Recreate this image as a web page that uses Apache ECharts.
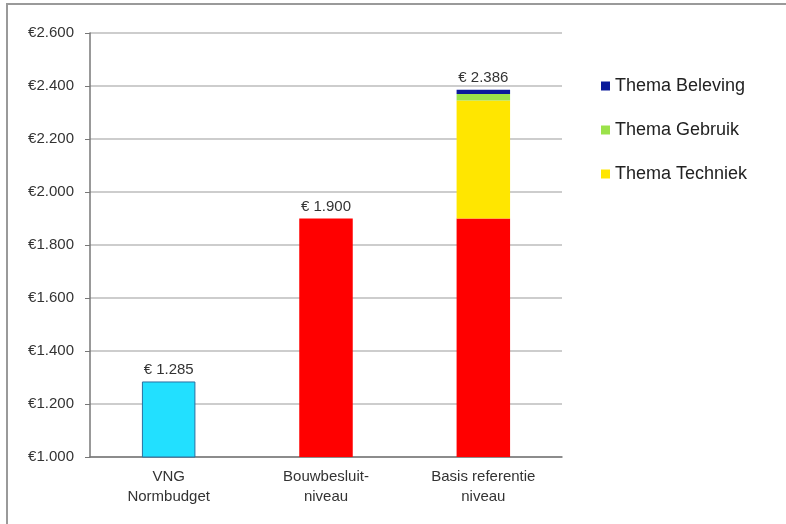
<!DOCTYPE html>
<html>
<head>
<meta charset="utf-8">
<script src="https://cdn.jsdelivr.net/npm/echarts@6/dist/echarts.min.js"></script>
<style>
  html, body { margin: 0; padding: 0; background: #fff; }
  #chart { width: 786px; height: 524px; }
</style>
</head>
<body>
<div id="chart"></div>
<script>
// categorieën en waarden
var categories = ["VNG\nNormbudget", "Bouwbesluit-\nniveau", "Basis referentie\nniveau"];
var baseValues = [1285, 1900, 1900];
var baseColors = ["#22e0ff", "#ff0000", "#ff0000"];
var techniek = [null, null, 445];
var gebruik = [null, null, 25];
var beleving = [null, null, 16];
var yTicks = { min: 1000, max: 2600, interval: 200 };

function euro(v, space) {
  var s = String(Math.round(v)).replace(/\B(?=(\d{3})+(?!\d))/g, ".");
  return "€" + (space ? " " : "") + s;
}

var font = "Liberation Sans";

var chart = echarts.init(document.getElementById("chart"));
var option = {
  animation: false,
  textStyle: { fontFamily: font },
  graphic: [{
    type: "rect",
    shape: { x: 7, y: 4, width: 900, height: 700 },
    style: { fill: "none", stroke: "#9a9a9a", lineWidth: 2 }
  }],
  grid: { left: 90, right: 224, top: 33, bottom: 67 },
  legend: {
    orient: "vertical",
    left: 596,
    top: 72,
    itemGap: 26,
    itemWidth: 9,
    itemHeight: 9,
    icon: "rect",
    textStyle: { fontFamily: font, fontSize: 18, color: "#222" },
    data: ["Thema Beleving", "Thema Gebruik", "Thema Techniek"]
  },
  xAxis: {
    type: "category",
    data: categories,
    axisLine: { lineStyle: { color: "#777", width: 1.5 } },
    axisTick: { lineStyle: { color: "#777" }, length: 5 },
    axisLabel: { fontFamily: font, fontSize: 15, color: "#333", lineHeight: 20, margin: 10 }
  },
  yAxis: {
    type: "value",
    min: yTicks.min,
    max: yTicks.max,
    interval: yTicks.interval,
    axisLine: { show: true, lineStyle: { color: "#777", width: 1.5 } },
    axisTick: { show: true, lineStyle: { color: "#777" }, length: 5 },
    axisLabel: { fontFamily: font, fontSize: 15, color: "#333", margin: 16, formatter: function (v) { return euro(v, false); } },
    splitLine: { lineStyle: { color: "#bdbdbd", width: 1.5 } }
  },
  series: [
    {
      name: "Basis",
      type: "bar",
      stack: "totaal",
      barWidth: "34%",
      data: baseValues.map(function (v, i) {
        return {
          value: v,
          itemStyle: {
            color: baseColors[i],
            borderColor: i === 0 ? "#2a6fa0" : baseColors[i],
            borderWidth: i === 0 ? 1 : 0
          },
          label: { show: i < 2 }
        };
      }),
      label: {
        position: "top",
        distance: 4,
        fontFamily: font,
        fontSize: 15,
        color: "#333",
        formatter: function (p) { return euro(p.value, true); }
      }
    },
    {
      name: "Thema Techniek",
      type: "bar",
      stack: "totaal",
      itemStyle: { color: "#ffe600" },
      data: techniek
    },
    {
      name: "Thema Gebruik",
      type: "bar",
      stack: "totaal",
      itemStyle: { color: "#9be24a" },
      data: gebruik
    },
    {
      name: "Thema Beleving",
      type: "bar",
      stack: "totaal",
      itemStyle: { color: "#0a1a9a" },
      data: beleving,
      label: {
        show: true,
        position: "top",
        distance: 4,
        fontFamily: font,
        fontSize: 15,
        color: "#333",
        formatter: function (p) {
          var i = p.dataIndex;
          return euro(baseValues[i] + techniek[i] + gebruik[i] + beleving[i], true);
        }
      }
    }
  ]
};
chart.setOption(option);
</script>
</body>
</html>
